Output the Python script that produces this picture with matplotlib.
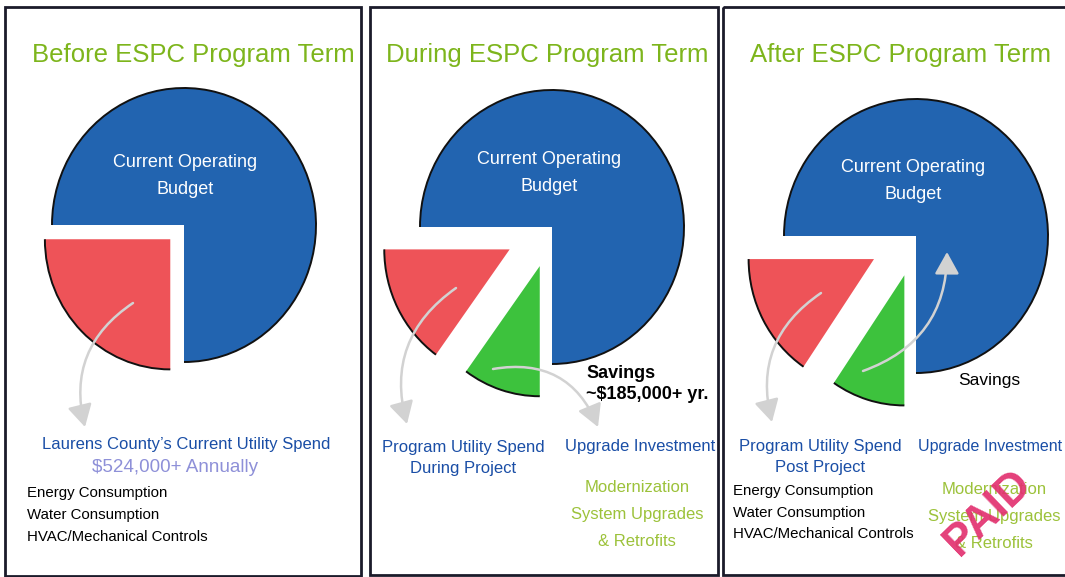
import matplotlib
matplotlib.use("Agg")
import matplotlib.pyplot as plt
from matplotlib.patches import Arc, Rectangle

plt.rcParams['font.family'] = ['Liberation Sans', 'DejaVu Sans']

# -------------------------------
# Data
# -------------------------------
titles = ["Before ESPC Program Term", "During ESPC Program Term", "After ESPC Program Term"]
budget_share = [75, 75, 75]        # Current Operating Budget
utility_share = [25, 15, 15.5]     # utility spend slice (red)
upgrade_share = [0, 10, 9.5]       # upgrade investment / savings slice (green)
utility_explode = [0.147, 0.36, 0.36]
upgrade_explode = [0.0, 0.30, 0.30]

budget_label = "Current Operating\nBudget"
utility_labels = ["Laurens County\u2019s Current Utility Spend",
                  "Program Utility Spend\nDuring Project",
                  "Program Utility Spend\nPost Project"]
spend_note = "$524,000+ Annually"
utility_items = ["Energy Consumption", "Water Consumption", "HVAC/Mechanical Controls"]
upgrade_label = "Upgrade Investment"
upgrade_items = ["Modernization", "System Upgrades", "& Retrofits"]
savings_during = "Savings\n~$185,000+ yr."
savings_after = "Savings"

BLUE, RED, GREEN = '#2264b0', '#ee5358', '#3dc23d'
TITLE_C = '#7db51c'
LABEL_C = '#1a4ea6'
ITEM_C = '#9cc23a'
ARROW_C = '#d2d2d2'

W, H = 1065, 577
fig = plt.figure(figsize=(W / 100, H / 100), dpi=100)
fig.patch.set_facecolor('white')

# pie geometry (pixels): centre of each pie and pixels per unit radius
pie_centers = [(184, 225), (552, 227), (916, 236)]
RX, RY, L = 132, 137, 1.5
CUT_R = 0.95   # cut-out slices drawn a little smaller

for i, (cx, cy) in enumerate(pie_centers):
    ax = fig.add_axes([(cx - L * RX) / W, (H - cy - L * RY) / H, 2 * L * RX / W, 2 * L * RY / H])
    vals = [budget_share[i], utility_share[i], upgrade_share[i]]
    cols = [BLUE, RED, GREEN]
    expl = [0, utility_explode[i], upgrade_explode[i]]
    keep = [k for k, v in enumerate(vals) if v > 0]
    wedges, _ = ax.pie([vals[k] for k in keep], colors=[cols[k] for k in keep],
                       explode=[expl[k] for k in keep], startangle=-90,
                       counterclock=True, radius=1.0, wedgeprops=dict(linewidth=0))
    for j, w in enumerate(wedges):
        if j > 0:
            w.set_radius(CUT_R)
        ax.add_patch(Arc(w.center, 2 * w.r, 2 * w.r, theta1=w.theta1, theta2=w.theta2,
                         color='#111111', lw=1.4))
    ax.set_aspect('auto')
    ax.set_xlim(-L, L)
    ax.set_ylim(-L, L)
    ax.axis('off')
    ax.patch.set_alpha(0)

# overlay axes in pixel units for frames, text and arrows
bg = fig.add_axes([0, 0, 1, 1], zorder=5)
bg.set_xlim(0, W)
bg.set_ylim(H, 0)
bg.axis('off')
bg.patch.set_alpha(0)

for x0, x1, y1 in [(5, 361, 576), (370, 718, 575), (723, 1075, 575)]:
    bg.add_patch(Rectangle((x0, 7), x1 - x0, y1 - 7, fill=False, ec='#1b1b2a', lw=2))

title_x = [193, 547, 901]
for t, x in zip(titles, title_x):
    bg.text(x, 55, t, color=TITLE_C, fontsize=18.5, ha='center', va='center')

budget_pos = [(185, 176), (549, 173), (913, 181)]
for x, y in budget_pos:
    bg.text(x, y, budget_label, color='white', fontsize=13, ha='center', va='center',
            linespacing=1.75)

arrow_kw = dict(arrowstyle='-|>,head_length=0.9,head_width=0.5', color=ARROW_C, lw=1.8,
                mutation_scale=15, shrinkA=0, shrinkB=0)
arrows = [((133, 303), (85, 427), 0.35),
          ((456, 288), (407, 424), 0.35),
          ((493, 369), (598, 427), -0.4),
          ((821, 293), (772, 422), 0.35),
          ((863, 371), (947, 252), 0.35)]
for start, tip, rad in arrows:
    bg.annotate('', xy=tip, xytext=start,
                arrowprops=dict(connectionstyle=f'arc3,rad={rad}', **arrow_kw))

# panel 1 labels
bg.text(186, 445, utility_labels[0], color=LABEL_C, fontsize=12, ha='center', va='center')
bg.text(175, 468, spend_note, color='#8e90d8', fontsize=13.6, ha='center', va='center')
for k, item in enumerate(utility_items):
    bg.text(27, 493 + 22 * k, item, color='black', fontsize=10.8, ha='left', va='center')

# panel 2 labels
bg.text(463, 458, utility_labels[1], color=LABEL_C, fontsize=12, ha='center', va='center',
        linespacing=1.45)
bg.text(640, 446, upgrade_label, color=LABEL_C, fontsize=12, ha='center', va='center')
for k, item in enumerate(upgrade_items):
    bg.text(637, 487 + 27 * k, item, color=ITEM_C, fontsize=12, ha='center', va='center')
bg.text(586, 384, savings_during, color='black', fontsize=13, fontweight='bold',
        ha='left', va='center', linespacing=1.3)

# panel 3 labels
bg.text(820, 457, utility_labels[2], color=LABEL_C, fontsize=12, ha='center', va='center',
        linespacing=1.45)
for k, item in enumerate(utility_items):
    bg.text(733, 491 + 21.5 * k, item, color='black', fontsize=10.8, ha='left', va='center')
bg.text(918, 446, upgrade_label, color=LABEL_C, fontsize=11.5, ha='left', va='center')
for k, item in enumerate(upgrade_items):
    bg.text(994, 490 + 27 * k, item, color=ITEM_C, fontsize=12, ha='center', va='center')
bg.text(958, 381, savings_after, color='black', fontsize=12.5, ha='left', va='center')
bg.text(988, 513, "PAID", color='#e2306f', fontsize=32, fontweight='bold', rotation=44,
        ha='center', va='center', alpha=0.92)

fig.savefig("out.png", dpi=100)
plt.close(fig)
